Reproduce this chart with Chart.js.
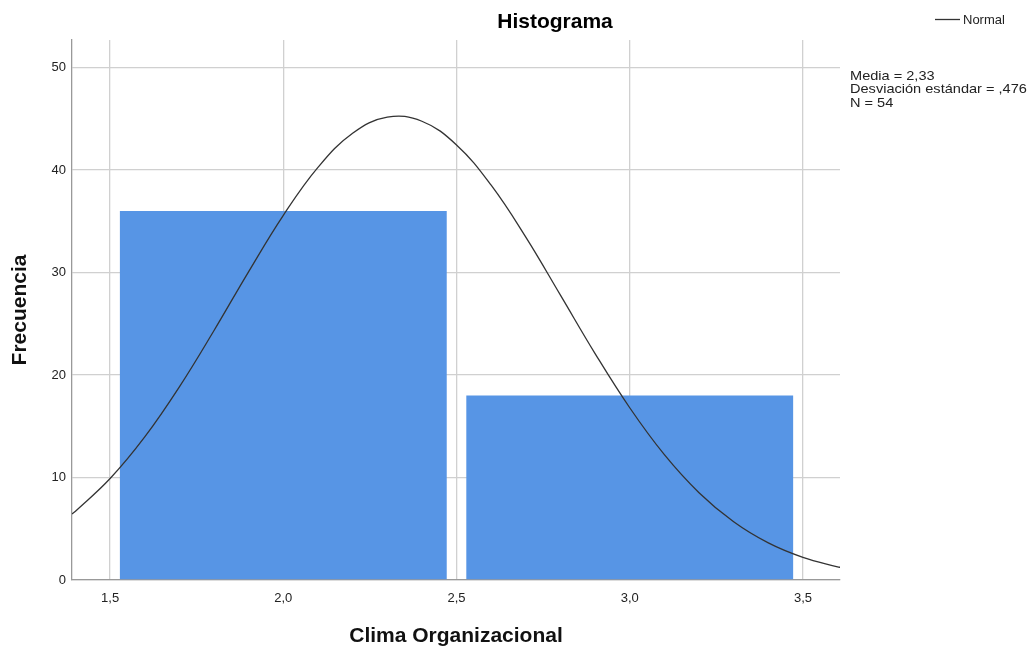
<!DOCTYPE html>
<html lang="es">
<head>
  <meta charset="UTF-8">
  <title>Histograma - Clima Organizacional</title>
  <script src="https://cdn.jsdelivr.net/npm/chart.js"></script>
  <style>
    html, body { margin: 0; padding: 0; background: #fff; }
    #wrap { width: 1030px; height: 648px; }
  </style>
</head>
<body>
  <div id="wrap"><canvas id="hist" width="1030" height="648"></canvas></div>
  <script>
    // histogram bins (centre of bin) and counts
    const binCenters = [2.0, 3.0];
    const binCounts = [36, 18];
    // normal curve
    const curveX = [1.39, 1.4, 1.5, 1.6, 1.7, 1.8, 1.9, 2.0, 2.1, 2.2, 2.3, 2.4, 2.5, 2.6, 2.7, 2.8, 2.9, 3.0, 3.1, 3.2, 3.3, 3.4, 3.5, 3.6, 3.61];
    const curveY = [6.44, 6.71, 9.90, 13.96, 18.85, 24.35, 30.10, 35.59, 40.27, 43.60, 45.17, 44.77, 42.46, 38.53, 33.46, 27.80, 22.10, 16.81, 12.23, 8.52, 5.68, 3.62, 2.21, 1.29, 1.22];
    const xTicks = [1.5, 2.0, 2.5, 3.0, 3.5];
    const yTicks = [0, 10, 20, 30, 40, 50];
    const statsLines = ['Media = 2,33', 'Desviación estándar = ,476', 'N = 54'];

    const FONT = '"Liberation Sans", Arial, sans-serif';

    const textPlugin = {
      id: 'spssText',
      afterDraw(chart) {
        const ctx = chart.ctx;
        ctx.save();
        ctx.fillStyle = '#000';
        ctx.font = 'bold 21px ' + FONT;
        ctx.textAlign = 'center';
        ctx.textBaseline = 'middle';
        ctx.fillText('Histograma', 555, 22);

        // legend
        ctx.strokeStyle = '#333';
        ctx.lineWidth = 1.3;
        ctx.beginPath();
        ctx.moveTo(935, 19.5);
        ctx.lineTo(960, 19.5);
        ctx.stroke();
        ctx.font = '13px ' + FONT;
        ctx.textAlign = 'left';
        ctx.fillStyle = '#222';
        ctx.fillText('Normal', 963, 20.5);

        // stats box (SPSS text is a little wider than Arial)
        ctx.translate(850, 0);
        ctx.scale(1.12, 1);
        statsLines.forEach((s, i) => ctx.fillText(s, 0, 76 + i * 13.5));
        ctx.restore();
      }
    };

    const ctx = document.getElementById('hist').getContext('2d');
    new Chart(ctx, {
      type: 'bar',
      data: {
        datasets: [
          {
            type: 'line',
            label: 'Normal',
            data: curveX.map((x, i) => ({ x, y: curveY[i] })),
            borderColor: '#333',
            borderWidth: 1.3,
            pointRadius: 0,
            tension: 0.4,
            fill: false,
            order: 0
          },
          {
            type: 'bar',
            label: 'Frecuencia',
            data: binCenters.map((x, i) => ({ x, y: binCounts[i] })),
            backgroundColor: '#5795e5',
            borderWidth: 0,
            categoryPercentage: 1,
            barPercentage: 1.887,
            order: 1
          }
        ]
      },
      options: {
        responsive: false,
        animation: false,
        layout: { padding: { top: 40, right: 190, left: 0, bottom: 0 } },
        plugins: {
          legend: { display: false },
          title: { display: false },
          tooltip: { enabled: false }
        },
        scales: {
          x: {
            type: 'linear',
            min: 1.39,
            max: 3.607,
            offset: false,
            afterFit(s) { s.height = 68; },
            afterBuildTicks(s) { s.ticks = xTicks.map(v => ({ value: v })); },
            grid: { color: '#d0d0d0', lineWidth: 1.3, drawTicks: false, offset: false },
            border: { color: '#999', width: 1.3 },
            ticks: {
              padding: 11,
              color: '#222',
              font: { family: FONT, size: 13 },
              maxRotation: 0,
              callback: v => v.toFixed(1).replace('.', ',')
            },
            title: {
              display: true,
              text: 'Clima Organizacional',
              color: '#111',
              font: { family: FONT, size: 21, weight: 'bold', lineHeight: 1.0 },
              padding: { top: 0, bottom: 1 }
            }
          },
          y: {
            min: 0,
            max: 52.7,
            afterFit(s) { s.width = 72; },
            afterBuildTicks(s) { s.ticks = yTicks.map(v => ({ value: v })); },
            grid: { color: '#d0d0d0', lineWidth: 1.3, drawTicks: false },
            border: { color: '#999', width: 1.3 },
            ticks: {
              padding: 6,
              color: '#222',
              font: { family: FONT, size: 13 },
              callback: v => String(v)
            },
            title: {
              display: true,
              text: 'Frecuencia',
              color: '#111',
              font: { family: FONT, size: 21, weight: 'bold' },
              padding: { top: 8, bottom: 0 }
            }
          }
        }
      },
      plugins: [textPlugin]
    });
  </script>
</body>
</html>
